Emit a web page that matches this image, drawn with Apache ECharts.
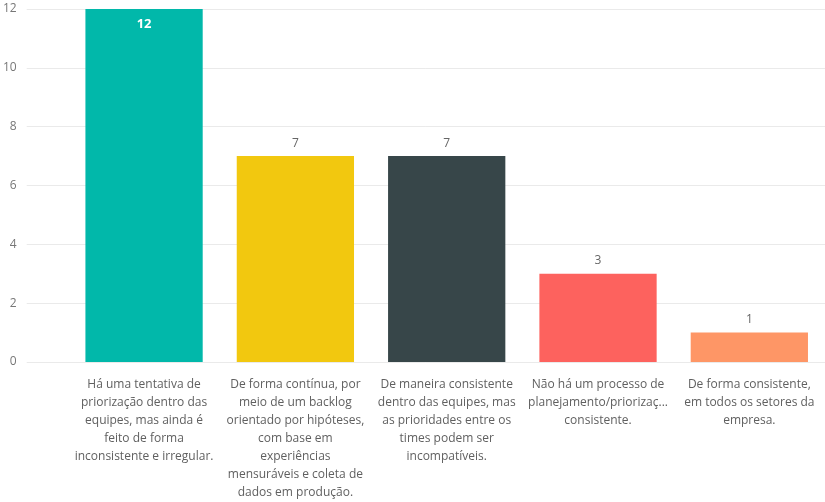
<!DOCTYPE html>
<html><head><meta charset="utf-8">
<script src="https://cdn.jsdelivr.net/npm/echarts@6/dist/echarts.min.js"></script>
<style>html,body{margin:0;padding:0;background:#fff}#c{width:825px;height:502px}</style>
</head><body><div id="c"></div>
<script>
const categories = [
  'Há uma tentativa de\npriorização dentro das\nequipes, mas ainda é\nfeito de forma\ninconsistente e irregular.',
  'De forma contínua, por\nmeio de um backlog\norientado por hipóteses,\ncom base em\nexperiências\nmensuráveis e coleta de\ndados em produção.',
  'De maneira consistente\ndentro das equipes, mas\nas prioridades entre os\ntimes podem ser\nincompatíveis.',
  'Não há um processo de\nplanejamento/prioriza\u00e7...\nconsistente.',
  'De forma consistente,\nem todos os setores da\nempresa.'
];
const values = [12, 7, 7, 3, 1];
const colors = ['#01B8AA', '#F2C80F', '#374649', '#FD625E', '#FE9666'];
const yTicks = [0, 2, 4, 6, 8, 10, 12];

const font = 'Open Sans, Noto Sans, sans-serif';
const chart = echarts.init(document.getElementById('c'));
chart.setOption({
  animation: false,
  grid: [
    {left: 25, right: 0, top: 9, bottom: 140},
    {left: 68.4, right: -4, top: 9, bottom: 140}
  ],
  xAxis: [
    {gridIndex: 0, type: 'value', show: false, min: 0, max: 1},
    {gridIndex: 1, type: 'category', data: categories,
     axisLine: {show: false}, axisTick: {show: false},
     axisLabel: {interval: 0, color: '#606060', fontFamily: font, fontSize: 12, lineHeight: 18, margin: 14}}
  ],
  yAxis: [
    {gridIndex: 0, type: 'value', min: yTicks[0], max: yTicks[yTicks.length-1], interval: 2,
     axisLine: {show: false}, axisTick: {show: false},
     axisLabel: {color: '#777', fontFamily: font, fontSize: 12, margin: 10},
     splitLine: {lineStyle: {color: '#eaeaea'}}},
    {gridIndex: 1, type: 'value', min: 0, max: 12, show: false, splitLine: {show: false}}
  ],
  series: [{
    type: 'bar', xAxisIndex: 1, yAxisIndex: 1, barWidth: '77.5%',
    data: values.map((v, i) => ({
      value: v,
      itemStyle: {color: colors[i]},
      label: i === 0
        ? {show: true, position: 'insideTop', color: '#fff', fontWeight: 'bold', fontSize: 13, distance: 9}
        : {show: true, position: 'top', color: '#666', distance: 7}
    })),
    label: {fontFamily: font, fontSize: 12}
  }]
});
</script></body></html>
